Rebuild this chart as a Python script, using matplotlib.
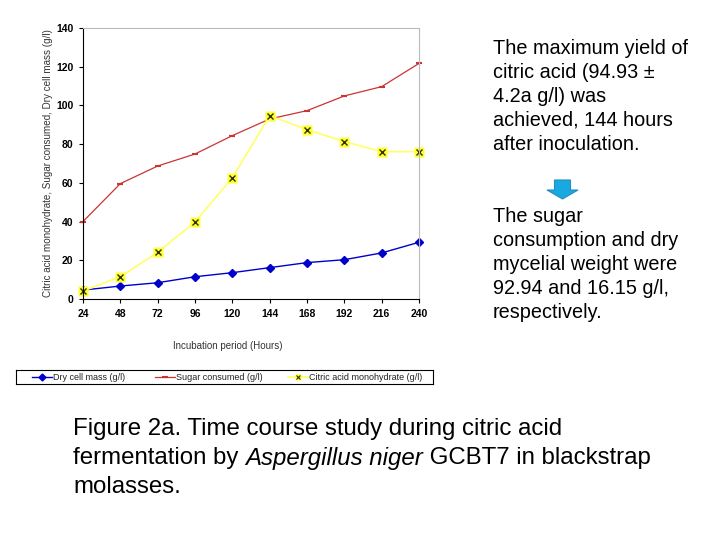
import matplotlib
matplotlib.use("Agg")
import matplotlib.pyplot as plt
from matplotlib.patches import FancyArrow
from matplotlib.lines import Line2D

plt.rcParams['font.family'] = ['Liberation Sans', 'DejaVu Sans']

# values
hours = [24, 48, 72, 96, 120, 144, 168, 192, 216, 240]
dry_cell = [4.6, 6.7, 8.4, 11.5, 13.6, 16.2, 18.8, 20.3, 23.8, 29.3]
sugar = [40.0, 59.6, 68.7, 74.9, 84.4, 93.0, 97.3, 104.9, 109.7, 121.7]
citric = [4.1, 11.5, 24.1, 39.8, 62.7, 94.7, 87.5, 81.3, 76.1, 76.1]
y_ticks = [0, 20, 40, 60, 80, 100, 120, 140]
series_names = ["Dry cell mass (g/l)", "Sugar consumed (g/l)",
                "Citric acid monohydrate (g/l)"]

side_text = ("The maximum yield of\ncitric acid (94.93 \u00b1\n4.2a g/l) was\n"
             "achieved, 144 hours\nafter inoculation.")
side_text2 = ("The sugar\nconsumption and dry\nmycelial weight were\n"
              "92.94 and 16.15 g/l,\nrespectively.")

fig = plt.figure(figsize=(7.2, 5.4), dpi=100)
W, H = 720, 540


def fx(px):
    return px / W


def fy(py):
    return 1 - py / H


BLUE, RED, YEL = "#0000cc", "#cc3333", "#ffff66"

ax = fig.add_axes([fx(83), fy(299), fx(419) - fx(83), fy(28) - fy(299)])
ax.plot(hours, dry_cell, color=BLUE, lw=1.0, marker="D", ms=3.8,
        mfc=BLUE, mec=BLUE, clip_on=False)
ax.plot(hours, sugar, color=RED, lw=0.9, marker="_", ms=4, mew=1.5,
        mec=RED, clip_on=False)
ax.plot(hours, citric, color=YEL, lw=1.2, marker="s", ms=7,
        mfc="#ffff33", mec="none", clip_on=False)
ax.plot(hours, citric, ls="none", marker="x", ms=4, mew=1.0, color="#333300",
        clip_on=False)

ax.set_xlim(24, 240)
ax.set_ylim(0, 140)
ax.set_xticks(hours)
ax.set_yticks(y_ticks)
ax.tick_params(axis="both", labelsize=7.5, length=3, width=0.8, pad=4)
for lab in ax.get_xticklabels() + ax.get_yticklabels():
    lab.set_fontweight("bold")
for side in ("top", "right"):
    ax.spines[side].set_color("#bbbbbb")
    ax.spines[side].set_linewidth(0.8)
ax.set_ylabel("Citric acid monohydrate, Sugar consumed, Dry cell mass (g/l)",
              fontsize=7.1, color="#333333")
ax.yaxis.set_label_coords(-30 / 336, 0.5)
ax.set_xlabel("Incubation period (Hours)", fontsize=7, color="#333333")
ax.xaxis.set_label_coords((228 - 83) / 336, -42 / 271)

# legend strip below the chart, handles placed by hand
leg_ax = fig.add_axes([fx(16), fy(384), fx(433) - fx(16), fy(370) - fy(384)])
leg_ax.set_xlim(16, 433)
leg_ax.set_ylim(0, 1)
leg_ax.set_xticks([])
leg_ax.set_yticks([])
for s in leg_ax.spines.values():
    s.set_linewidth(0.8)
marks = [
    dict(marker="D", ms=3.5, mfc=BLUE, mec=BLUE, mew=1.0),
    dict(marker="_", ms=4, mfc=RED, mec=RED, mew=1.5),
    dict(marker="s", ms=5, mfc="#ffff33", mec="none", mew=1.0),
]
colors = [BLUE, RED, YEL]
widths = [1.0, 0.9, 1.2]
starts = [32, 155, 288]
for x0, c, lw, mk, name in zip(starts, colors, widths, marks, series_names):
    leg_ax.add_line(Line2D([x0, x0 + 20], [0.5, 0.5], color=c, lw=lw))
    leg_ax.plot([x0 + 10], [0.5], ls="none", **mk)
    if mk["marker"] == "s":
        leg_ax.plot([x0 + 10], [0.5], ls="none", marker="x", ms=3, mew=0.8,
                    color="#333300")
    leg_ax.text(x0 + 21, 0.5, name, fontsize=6.5, va="center", ha="left",
                color="#222222")

# side notes
fig.text(fx(493), fy(39), side_text, fontsize=14.3, va="top", ha="left",
         linespacing=1.33)
fig.text(fx(493), fy(207), side_text2, fontsize=14.3, va="top", ha="left",
         linespacing=1.33)

# down arrow between the notes
fig.patches.append(FancyArrow(fx(562.5), fy(180), 0, -(fy(180) - fy(199)),
                              width=fx(16), head_width=fx(31),
                              head_length=(fy(190) - fy(199)),
                              length_includes_head=True,
                              transform=fig.transFigure,
                              facecolor="#1aa8e0", edgecolor="#2090c0",
                              lw=0.8))

# caption
fs = 17.3
fig.text(fx(73), fy(418), "Figure 2a. Time course study during citric acid",
         fontsize=fs, va="top", ha="left")
line2_y = fy(447)
t1 = fig.text(fx(73), line2_y, "fermentation by ", fontsize=fs, va="top")
fig.canvas.draw()
r = fig.canvas.get_renderer()
bb = t1.get_window_extent(r)
t2 = fig.text(bb.x1 / W, line2_y, "Aspergillus niger", fontsize=fs,
              va="top", style="italic")
bb2 = t2.get_window_extent(r)
fig.text(bb2.x1 / W, line2_y, " GCBT7 in blackstrap", fontsize=fs,
         va="top")
fig.text(fx(73), fy(476), "molasses.", fontsize=fs, va="top", ha="left")

fig.savefig("out.png", dpi=100)
